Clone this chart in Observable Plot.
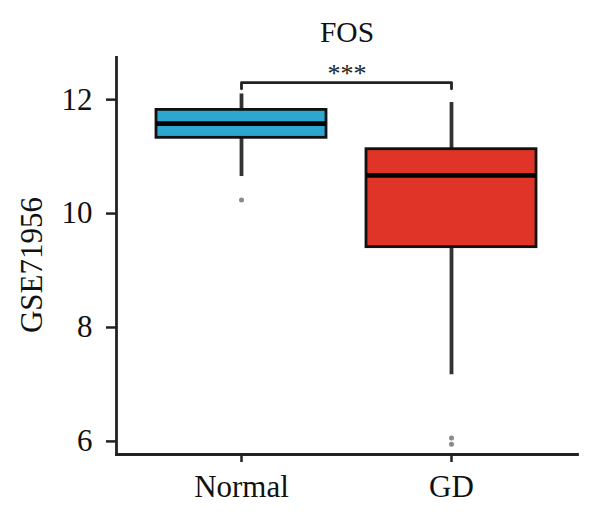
<!DOCTYPE html>
<html>
<head>
<meta charset="utf-8">
<script src="https://cdn.jsdelivr.net/npm/d3@7"></script>
<script src="https://cdn.jsdelivr.net/npm/@observablehq/plot@0.6"></script>
<style>
  html, body { margin: 0; padding: 0; background: #fff; }
</style>
</head>
<body>
<div id="chart"></div>
<script>
// ---- data ----
const title = "FOS";
const yLabel = "GSE71956";
const groups = ["Normal", "GD"];
const colors = ["#2ea7d0", "#e13428"];
const q1 = [11.33, 9.41];
const median = [11.58, 10.67];
const q3 = [11.82, 11.13];
const whiskerLo = [10.65, 7.17];
const whiskerHi = [12.10, 11.95];
const outlierGroup = ["Normal", "GD", "GD"];
const outlierValue = [10.24, 6.06, 5.95];
const yTicks = [6, 8, 10, 12];
const yDomain = [5.77, 12.74];
const sigLabel = "***";
const bracketY = 12.30;
const bracketEnd = 12.19;

// ---- tables ----
const boxes = groups.map((g, i) => ({
  group: g, q1: q1[i], median: median[i], q3: q3[i],
  lo: whiskerLo[i], hi: whiskerHi[i], color: colors[i]
}));
const outliers = outlierGroup.map((g, i) => ({group: g, value: outlierValue[i]}));
const bracket = [
  {x: groups[0], y: bracketEnd},
  {x: groups[0], y: bracketY},
  {x: groups[1], y: bracketY},
  {x: groups[1], y: bracketEnd}
];

const font = "'Liberation Serif', 'DejaVu Serif', serif";

const chart = Plot.plot({
  width: 600,
  height: 516,
  marginLeft: 116,
  marginRight: 23,
  marginTop: 57,
  marginBottom: 62,
  style: {fontFamily: font, fontSize: "31px", color: "#111", background: "#fff"},
  x: {type: "band", domain: groups, paddingInner: 0.19, paddingOuter: 0.1925},
  y: {domain: yDomain},
  marks: [
    // axis lines
    Plot.frame({anchor: "left", stroke: "#222", strokeWidth: 2.8}),
    Plot.frame({anchor: "bottom", stroke: "#222", strokeWidth: 2.8}),
    // whiskers
    Plot.ruleX(boxes, {x: "group", y1: "lo", y2: "q1", stroke: "#333", strokeWidth: 3.8}),
    Plot.ruleX(boxes, {x: "group", y1: "q3", y2: "hi", stroke: "#333", strokeWidth: 3.8}),
    // boxes
    Plot.barY(boxes, {x: "group", y1: "q1", y2: "q3", fill: "color", stroke: "#111", strokeWidth: 2.8}),
    // medians
    Plot.tickY(boxes, {x: "group", y: "median", stroke: "#000", strokeWidth: 4.8}),
    // outliers
    Plot.dot(outliers, {x: "group", y: "value", r: 2.5, fill: "#8a8a8a", stroke: null}),
    // significance bracket
    Plot.line(bracket, {x: "x", y: "y", stroke: "#222", strokeWidth: 2.8, curve: "linear"}),
    Plot.text([sigLabel], {frameAnchor: "top", text: d => d, dy: 16, fontSize: 26, lineAnchor: "middle", fill: "#222"}),
    // title
    Plot.text([title], {frameAnchor: "top", text: d => d, dy: -24.5, fontSize: 29.5, lineAnchor: "middle", fill: "#111"}),
    // y label
    Plot.text([yLabel], {frameAnchor: "left", text: d => d, rotate: -90, dx: -84, dy: 9, fontSize: 31, lineAnchor: "middle", textAnchor: "middle", fill: "#111"}),
    // axes
    Plot.axisY({ticks: yTicks, tickFormat: "d", tickSize: 10, tickPadding: 14, label: null, fontSize: 31, stroke: "#222", strokeWidth: 2.5, fill: "#111"}),
    Plot.axisX({tickSize: 8, tickPadding: 12, label: null, fontSize: 31, stroke: "#222", strokeWidth: 2.5, fill: "#111"})
  ]
});
document.getElementById("chart").appendChild(chart);
</script>
</body>
</html>
